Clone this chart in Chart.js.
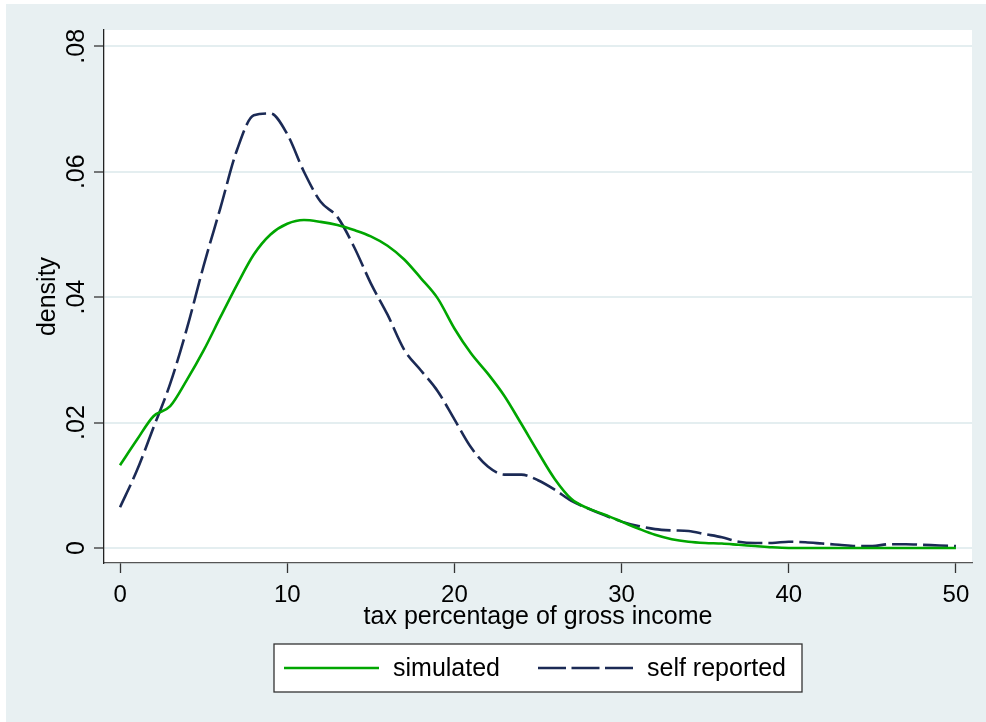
<!DOCTYPE html>
<html>
<head>
<meta charset="utf-8">
<script src="https://cdn.jsdelivr.net/npm/chart.js@4/dist/chart.umd.min.js"></script>
<style>
  html, body { margin: 0; padding: 0; background: #fff; }
  #wrap { width: 986px; height: 722px; position: relative; }
</style>
</head>
<body>
<div id="wrap"><canvas id="chart"></canvas></div>
<script>
// ===== data =====
const taxPct = [0, 1, 2, 3, 4, 5, 6, 7, 8, 9, 10, 11, 12, 13, 14, 15, 16, 17, 18, 19, 20,
  21, 22, 23, 24, 25, 26, 27, 28, 29, 30, 31, 32, 33, 34, 35, 36, 37, 38, 39, 40,
  41, 42, 43, 44, 45, 46, 47, 48, 49, 50];

const simulated = [0.0132, 0.0172, 0.0210, 0.0226, 0.0268, 0.0315, 0.0368, 0.0420, 0.0468, 0.0500, 0.0517,
  0.0523, 0.0520, 0.0515, 0.0507, 0.0497, 0.0482, 0.0460, 0.0430, 0.0398, 0.0350,
  0.0310, 0.0278, 0.0242, 0.0198, 0.0153, 0.0110, 0.0078, 0.0063, 0.0053, 0.0042,
  0.0031, 0.0021, 0.0014, 0.0010, 0.0008, 0.0007, 0.0005, 0.0003, 0.0001, 0.0000,
  0.0000, 0.0000, 0.0000, 0.0000, 0.0000, 0.0000, 0.0000, 0.0000, 0.0000, 0.0000];

const selfReported = [0.0065, 0.0123, 0.0192, 0.0262, 0.0350, 0.0450, 0.0542, 0.0635, 0.0690, 0.0693, 0.0660,
  0.0600, 0.0552, 0.0528, 0.0480, 0.0422, 0.0372, 0.0316, 0.0283, 0.0250, 0.0205,
  0.0160, 0.0130, 0.0117, 0.0117, 0.0108, 0.0093, 0.0075, 0.0063, 0.0052, 0.0042,
  0.0035, 0.0030, 0.0028, 0.0027, 0.0022, 0.0017, 0.0010, 0.0008, 0.0008, 0.0010,
  0.0009, 0.0007, 0.0005, 0.0003, 0.0003, 0.0006, 0.0006, 0.0005, 0.0004, 0.0003];

const seriesNames = ['simulated', 'self reported'];
const xTicks = [0, 10, 20, 30, 40, 50];
const yTicks = [0, 0.02, 0.04, 0.06, 0.08];
const yTickLabels = ['0', '.02', '.04', '.06', '.08'];

// ===== styles =====
const FONT = '"Liberation Sans", Arial, sans-serif';
const OUTER_BG = '#e8f0f2';
const GRID = '#e4eef0';
const GREEN = '#00a600';
const NAVY = '#1b2a55';

Chart.defaults.font.family = FONT;
Chart.defaults.font.size = 25;
Chart.defaults.color = '#000';

// background: white page, pale frame, white plot region
const backdrop = {
  id: 'backdrop',
  beforeDraw(chart) {
    const { ctx, chartArea: a } = chart;
    ctx.save();
    ctx.fillStyle = '#fff';
    ctx.fillRect(0, 0, chart.width, chart.height);
    ctx.fillStyle = OUTER_BG;
    ctx.fillRect(6, 4, chart.width - 6, chart.height - 4);
    ctx.fillStyle = '#fff';
    ctx.fillRect(a.left, a.top, a.right - a.left, a.bottom - a.top);
    ctx.restore();
  }
};

// rotated y tick labels (Stata style)
const yLabels = {
  id: 'yLabels',
  afterDraw(chart) {
    const { ctx, scales } = chart;
    const y = scales.y;
    ctx.save();
    ctx.font = '25px ' + FONT;
    ctx.fillStyle = '#000';
    ctx.textAlign = 'center';
    ctx.textBaseline = 'alphabetic';
    yTicks.forEach((v, i) => {
      ctx.save();
      ctx.translate(y.right - 20, y.getPixelForValue(v));
      ctx.rotate(-Math.PI / 2);
      ctx.fillText(yTickLabels[i], 0, 0);
      ctx.restore();
    });
    ctx.restore();
  }
};

// boxed legend under the axis title
const boxLegend = {
  id: 'boxLegend',
  afterDraw(chart) {
    const { ctx, chartArea: a } = chart;
    const w = 528, h = 48;
    const left = (a.left + a.right) / 2 - w / 2;
    const top = 644;
    const mid = top + h / 2;
    ctx.save();
    ctx.fillStyle = '#fff';
    ctx.fillRect(left, top, w, h);
    ctx.strokeStyle = '#333';
    ctx.lineWidth = 1.3;
    ctx.strokeRect(left, top, w, h);

    const items = chart.data.datasets.map((ds, i) => ({
      text: seriesNames[i], color: ds.borderColor, dashed: !!ds.borderDash
    }));
    const offsets = [10, 264];
    ctx.font = '25px ' + FONT;
    ctx.textBaseline = 'middle';
    ctx.textAlign = 'left';
    items.forEach((it, i) => {
      const x0 = left + offsets[i];
      ctx.strokeStyle = it.color;
      ctx.lineWidth = 2.6;
      ctx.setLineDash(it.dashed ? [28, 5.5] : []);
      ctx.beginPath();
      ctx.moveTo(x0, mid);
      ctx.lineTo(x0 + 95, mid);
      ctx.stroke();
      ctx.setLineDash([]);
      ctx.fillStyle = '#000';
      ctx.fillText(it.text, x0 + 109, mid + 1);
    });
    ctx.restore();
  }
};

new Chart(document.getElementById('chart'), {
  type: 'line',
  data: {
    datasets: [
      {
        label: seriesNames[0],
        data: taxPct.map((x, i) => ({ x, y: simulated[i] })),
        borderColor: GREEN,
        borderWidth: 2.6,
        pointRadius: 0,
        cubicInterpolationMode: 'monotone',
        fill: false
      },
      {
        label: seriesNames[1],
        data: taxPct.map((x, i) => ({ x, y: selfReported[i] })),
        borderColor: NAVY,
        borderWidth: 2.6,
        borderDash: [25, 6],
        pointRadius: 0,
        cubicInterpolationMode: 'monotone',
        fill: false
      }
    ]
  },
  options: {
    responsive: true,
    maintainAspectRatio: false,
    animation: false,
    events: [],
    layout: { padding: { left: 6, top: 30, right: 14, bottom: 0 } },
    plugins: { legend: { display: false }, tooltip: { enabled: false } },
    scales: {
      x: {
        type: 'linear',
        min: -0.96,
        max: 50.96,
        afterBuildTicks: s => { s.ticks = xTicks.map(v => ({ value: v })); },
        afterFit: s => { s.height = 159; },
        ticks: { padding: 8, maxRotation: 0, font: { size: 24 }, callback: v => String(v) },
        grid: { drawOnChartArea: false, drawTicks: true, tickLength: 10, tickColor: '#333', tickWidth: 1.3 },
        border: { color: '#555', width: 1.3 },
        title: {
          display: true,
          text: 'tax percentage of gross income',
          padding: { top: 0, bottom: 90 }
        }
      },
      y: {
        type: 'linear',
        min: -0.0024,
        max: 0.0826,
        afterBuildTicks: s => { s.ticks = yTicks.map(v => ({ value: v })); },
        afterFit: s => { s.width = 98; },
        ticks: { display: false },
        grid: { color: GRID, lineWidth: 2, drawTicks: true, tickLength: 10, tickColor: '#333', tickWidth: 1.3 },
        border: { color: '#222', width: 1.3 },
        title: {
          display: true,
          text: 'density',
          padding: { top: 27, bottom: 0 }
        }
      }
    }
  },
  plugins: [backdrop, yLabels, boxLegend]
});
</script>
</body>
</html>
